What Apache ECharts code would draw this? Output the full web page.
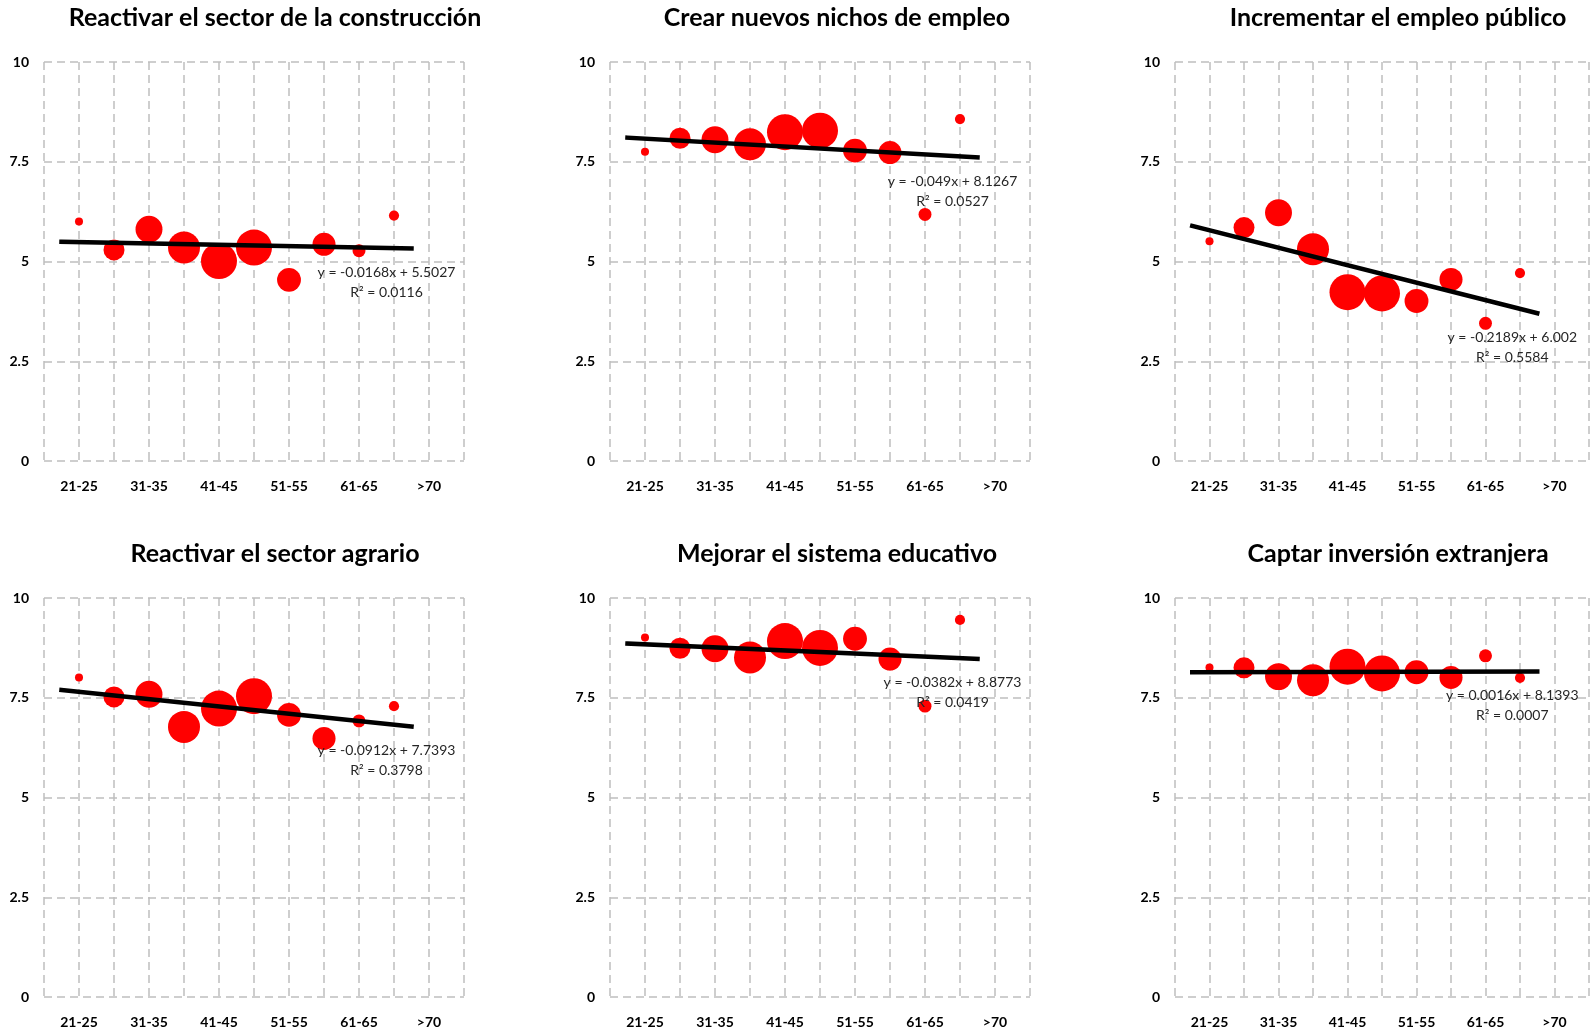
<!DOCTYPE html>
<html>
<head>
<meta charset="utf-8">
<script src="https://cdn.jsdelivr.net/npm/echarts@6/dist/echarts.min.js"></script>
<style>
html,body{margin:0;padding:0;background:#fff;}
#chart{width:1592px;height:1033px;}
</style>
</head>
<body>
<div id="chart"></div>
<script>
// ---- data ----
const ageGroups = ['21-25','26-30','31-35','36-40','41-45','46-50','51-55','56-60','61-65','66-70','>70'];
const xPositions = [1,2,3,4,5,6,7,8,9,10];
const bubbleCounts = [5, 34, 56, 79, 100, 100, 44, 41, 13, 8];
const yTicks = [0, 2.5, 5, 7.5, 10];

const titles = [
  'Reactivar el sector de la construcción',
  'Crear nuevos nichos de empleo',
  'Incrementar el empleo público',
  'Reactivar el sector agrario',
  'Mejorar el sistema educativo',
  'Captar inversión extranjera'
];

const construccion  = [6.00, 5.29, 5.81, 5.35, 5.01, 5.35, 4.54, 5.43, 5.27, 6.15];
const nichos        = [7.75, 8.09, 8.05, 7.94, 8.24, 8.28, 7.78, 7.73, 6.18, 8.57];
const empleoPublico = [5.51, 5.85, 6.22, 5.31, 4.23, 4.20, 4.01, 4.55, 3.45, 4.71];
const agrario       = [8.01, 7.52, 7.59, 6.77, 7.23, 7.54, 7.07, 6.48, 6.92, 7.29];
const educativo     = [9.01, 8.74, 8.73, 8.51, 8.92, 8.75, 8.98, 8.47, 7.29, 9.45];
const inversion     = [8.26, 8.25, 8.03, 7.94, 8.28, 8.11, 8.14, 8.01, 8.55, 8.00];

const slopes     = [-0.0168, -0.049, -0.2189, -0.0912, -0.0382, 0.0016];
const intercepts = [5.5027, 8.1267, 6.002, 7.7393, 8.8773, 8.1393];
const eqTexts = [
  'y = -0.0168x + 5.5027', 'y = -0.049x + 8.1267', 'y = -0.2189x + 6.002',
  'y = -0.0912x + 7.7393', 'y = -0.0382x + 8.8773', 'y = 0.0016x + 8.1393'
];
const r2Texts = ['R² = 0.0116','R² = 0.0527','R² = 0.5584','R² = 0.3798','R² = 0.0419','R² = 0.0007'];
const trendX = [0.5, 10.5];

const panels = [construccion, nichos, empleoPublico, agrario, educativo, inversion];

// ---- layout ----
const FONT = 'Lato, "Noto Sans", sans-serif';
const colLeft = [44, 610, 1175];
const rowTop = [62, 598];
const gridW = 420, gridH = 399;
const titleX = [275, 837, 1398];
const titleY = [18, 554];
const maxDiam = 36;
const maxCount = Math.max.apply(null, bubbleCounts);

const grids = [], xAxes = [], yAxes = [], series = [], graphics = [];
const dashStyle = {color:'#bfbfbf', width:1.5, type:[8,5]};

panels.forEach((vals, i) => {
  const c = i % 3, r = Math.floor(i / 3);
  grids.push({left: colLeft[c], top: rowTop[r], width: gridW, height: gridH, containLabel:false});
  xAxes.push({
    gridIndex: i, type:'value', min:0, max:12, interval:1,
    axisLine:{show:false}, axisTick:{show:false},
    splitLine:{show:true, showMinLine:true, showMaxLine:true, lineStyle:dashStyle},
    axisLabel:{
      show:true, margin:18, fontFamily:FONT, fontWeight:'bold', fontSize:14, color:'#000',
      formatter: v => (v % 2 === 1 ? (ageGroups[v-1] || '') : '')
    }
  });
  yAxes.push({
    gridIndex: i, type:'value', min:0, max:10, interval:2.5,
    axisLine:{show:false}, axisTick:{show:false},
    splitLine:{show:true, showMinLine:true, showMaxLine:true, lineStyle:dashStyle},
    axisLabel:{show:true, margin:15, fontFamily:FONT, fontWeight:'bold', fontSize:14, color:'#000',
      formatter: v => (yTicks.indexOf(v) >= 0 ? String(v) : '')}
  });
  series.push({
    type:'scatter', xAxisIndex:i, yAxisIndex:i, z:2,
    data: xPositions.map((x, k) => [x, vals[k], bubbleCounts[k]]),
    symbol:'circle',
    symbolSize: d => maxDiam * Math.sqrt(d[2] / maxCount),
    itemStyle:{color:'#ff0000', opacity:1},
    emphasis:{disabled:true},
    silent:true, animation:false
  });
  series.push({
    type:'line', xAxisIndex:i, yAxisIndex:i, z:3,
    data: trendX.map(x => [x, intercepts[i] + slopes[i] * x]),
    symbol:'none', showSymbol:false,
    lineStyle:{color:'#000', width:4.5, cap:'square'},
    endLabel:{
      show:true, formatter: eqTexts[i] + '\n' + r2Texts[i],
      fontFamily:FONT, fontSize:14, lineHeight:20, color:'#262626',
      align:'center', verticalAlign:'middle', distance:0, offset:[-25, 34]
    },
    silent:true, animation:false
  });
  graphics.push({
    type:'text', x: titleX[c], y: titleY[r],
    style:{text: titles[i], fill:'#000', font:'bold 25px ' + FONT,
      align:'center', verticalAlign:'middle', textAlign:'center', textVerticalAlign:'middle'}
  });
});

const chart = echarts.init(document.getElementById('chart'));
chart.setOption({
  backgroundColor:'#fff',
  animation:false,
  grid: grids, xAxis: xAxes, yAxis: yAxes, series: series,
  graphic: graphics
});
</script>
</body>
</html>
